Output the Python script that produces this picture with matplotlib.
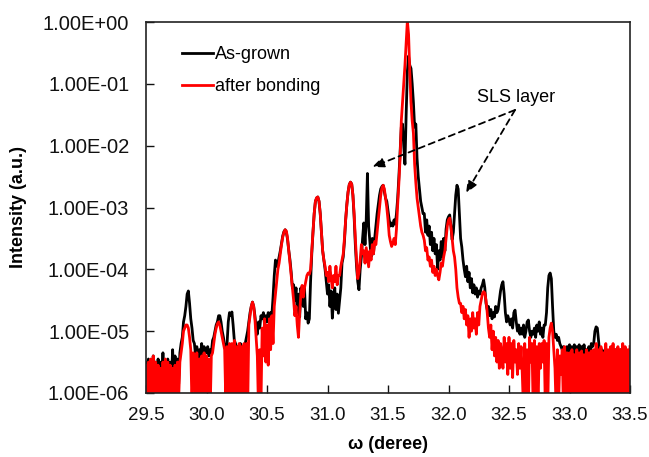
import numpy as np
import matplotlib
matplotlib.use("Agg")
import matplotlib.pyplot as plt
from matplotlib.ticker import FixedLocator, FuncFormatter, NullLocator

plt.rcParams['font.family'] = ['Liberation Sans', 'DejaVu Sans']

# scan grid: omega from 29.50 to 33.50 deg, 0.01 deg step
omega = np.round(np.arange(29.50, 33.505, 0.01), 2)

# log10 of normalised intensity, one row per 0.1 deg
as_grown_log = [
    -5.50, -5.85, -5.45, -5.90, -5.50, -5.80, -5.40, -5.85, -5.50, -5.90,  # 29.5
    -5.45, -5.90, -5.50, -5.80, -5.35, -5.85, -5.50, -5.90, -5.45, -5.85,  # 29.6
    -5.50, -5.80, -5.30, -5.85, -5.40, -5.80, -5.45, -5.85, -5.35, -5.20,  # 29.7
    -5.10, -4.85, -4.75, -4.60, -4.40, -4.35, -4.55, -4.80, -4.95, -5.15,  # 29.8
    -5.20, -5.40, -5.25, -5.45, -5.30, -5.40, -5.20, -5.45, -5.25, -5.35,  # 29.9
    -5.35, -5.25, -5.40, -5.30, -5.35, -5.15, -5.10, -5.00, -4.90, -4.85,  # 30.0
    -4.75, -4.75, -4.85, -5.00, -5.10, -5.25, -5.30, -5.20, -4.85, -4.70,  # 30.1
    -4.75, -4.69, -4.90, -5.15, -5.20, -5.30, -5.25, -5.35, -5.20, -5.30,  # 30.2
    -5.25, -5.35, -5.20, -5.10, -5.00, -4.85, -4.70, -4.60, -4.53, -4.60,  # 30.3
    -4.75, -4.95, -5.05, -4.85, -4.95, -4.75, -4.80, -4.70, -4.90, -4.75,  # 30.4
    -4.85, -4.70, -4.80, -4.70, -4.75, -4.45, -4.10, -3.85, -3.95, -3.90,  # 30.5
    -3.80, -3.70, -3.58, -3.46, -3.39, -3.36, -3.40, -3.52, -3.70, -3.85,  # 30.6
    -4.05, -4.30, -4.25, -4.50, -4.30, -4.70, -4.40, -4.77, -4.30, -4.50,  # 30.7
    -4.60, -4.30, -4.80, -4.70, -4.87, -4.80, -4.20, -3.75, -3.40, -3.10,  # 30.8
    -2.90, -2.85, -2.83, -2.90, -3.10, -3.40, -3.70, -3.85, -4.00, -4.20,  # 30.9
    -4.40, -4.25, -4.60, -4.35, -4.79, -4.50, -4.30, -4.65, -4.40, -4.71,  # 31.0
    -4.50, -4.30, -3.90, -3.80, -3.55, -3.20, -2.95, -2.75, -2.63, -2.59,  # 31.1
    -2.62, -2.80, -3.15, -3.60, -3.95, -4.20, -4.33, -4.00, -3.80, -3.50,  # 31.2
    -3.25, -3.60, -3.20, -2.45, -3.30, -3.55, -3.80, -3.50, -3.75, -3.50,  # 31.3
    -3.30, -3.10, -2.95, -2.80, -2.70, -2.66, -2.64, -2.75, -2.85, -2.90,  # 31.4
    -3.05, -3.20, -3.30, -3.25, -3.30, -3.20, -3.27, -3.10, -2.85, -2.50,  # 31.5
    -2.10, -1.70, -1.65, -2.00, -2.30, -1.50, -0.80, -0.55, -0.70, -0.75,  # 31.6
    -1.00, -1.30, -1.70, -1.65, -2.20, -2.50, -2.70, -2.90, -3.00, -3.10,  # 31.7
    -3.10, -3.40, -3.20, -3.45, -3.30, -3.60, -3.40, -3.70, -3.50, -3.75,  # 31.8
    -3.60, -4.00, -3.70, -3.85, -3.55, -3.80, -3.50, -3.70, -3.35, -3.20,  # 31.9
    -3.15, -3.12, -3.30, -3.52, -3.40, -3.10, -2.80, -2.64, -2.70, -3.10,  # 32.0
    -3.50, -3.64, -3.85, -4.00, -4.12, -3.95, -4.20, -4.05, -4.30, -4.15,  # 32.1
    -4.38, -4.25, -4.40, -4.30, -4.45, -4.35, -4.40, -4.30, -4.25, -4.17,  # 32.2
    -4.30, -4.55, -4.65, -4.60, -4.75, -4.65, -4.80, -4.70, -4.77, -4.60,  # 32.3
    -4.70, -4.65, -4.50, -4.35, -4.25, -4.20, -4.40, -4.70, -4.85, -4.75,  # 32.4
    -4.82, -4.90, -4.80, -4.95, -4.70, -4.66, -4.85, -5.00, -4.90, -5.05,  # 32.5
    -4.95, -5.05, -4.90, -5.10, -5.00, -4.85, -4.82, -5.00, -5.10, -5.00,  # 32.6
    -5.05, -4.95, -5.10, -4.90, -5.00, -4.85, -5.05, -4.95, -5.10, -4.90,  # 32.7
    -4.90, -4.70, -4.30, -4.10, -4.06, -4.15, -4.60, -5.00, -5.10, -5.05,  # 32.8
    -5.15, -5.10, -5.20, -5.25, -5.30, -5.25, -5.35, -5.30, -5.25, -5.35,  # 32.9
    -5.22, -5.55, -5.25, -5.60, -5.22, -5.50, -5.25, -5.60, -5.22, -5.55,  # 33.0
    -5.25, -5.60, -5.22, -5.55, -5.30, -5.60, -5.25, -5.50, -5.20, -5.25,  # 33.1
    -5.20, -5.00, -4.93, -4.95, -5.15, -5.35, -5.60, -5.30, -5.55, -5.35,  # 33.2
    -5.30, -5.55, -5.35, -5.60, -5.30, -5.55, -5.35, -5.60, -5.30, -5.55,  # 33.3
    -5.35, -5.60, -5.30, -5.55, -5.35, -5.60, -5.30, -5.55, -5.35, -5.60,  # 33.4
    -5.30,
]

after_bonding_log = [
    -5.55, -6.30, -5.50, -6.20, -5.45, -6.40, -5.40, -6.10, -5.50, -6.30,  # 29.5
    -5.55, -6.20, -5.60, -6.30, -5.50, -6.10, -5.45, -6.30, -5.50, -6.20,  # 29.6
    -5.55, -6.30, -5.60, -6.20, -5.55, -6.30, -5.50, -6.10, -5.50, -5.35,  # 29.7
    -5.20, -5.00, -4.95, -4.90, -4.90, -4.95, -5.10, -5.30, -6.20, -5.35,  # 29.8
    -5.40, -6.30, -5.35, -6.20, -5.45, -6.30, -5.40, -6.20, -5.35, -6.30,  # 29.9
    -5.40, -6.20, -5.45, -6.30, -5.40, -5.35, -5.20, -5.05, -4.95, -4.88,  # 30.0
    -4.85, -4.90, -5.00, -5.10, -5.20, -5.30, -6.20, -5.25, -6.30, -5.20,  # 30.1
    -6.10, -5.20, -6.30, -5.15, -6.20, -5.25, -6.30, -5.20, -6.10, -5.25,  # 30.2
    -6.30, -5.20, -6.20, -5.20, -6.30, -4.90, -4.75, -4.60, -4.53, -4.60,  # 30.3
    -4.80, -5.10, -5.40, -6.30, -5.30, -6.20, -4.95, -5.40, -4.80, -5.50,  # 30.4
    -4.90, -5.55, -4.80, -5.30, -4.75, -5.20, -4.60, -4.40, -4.20, -4.00,  # 30.5
    -3.90, -3.75, -3.60, -3.48, -3.40, -3.36, -3.38, -3.50, -3.70, -3.90,  # 30.6
    -4.10, -4.30, -4.50, -4.75, -4.60, -4.90, -5.10, -4.70, -4.40, -4.26,  # 30.7
    -4.45, -4.30, -4.20, -4.10, -4.06, -4.08, -4.00, -3.70, -3.40, -3.10,  # 30.8
    -2.90, -2.84, -2.83, -2.90, -3.10, -3.40, -3.70, -3.85, -3.95, -4.10,  # 30.9
    -4.05, -4.20, -3.95, -4.15, -4.30, -4.10, -4.20, -3.95, -4.25, -4.10,  # 31.0
    -4.10, -3.95, -3.85, -3.75, -3.50, -3.20, -2.95, -2.75, -2.63, -2.59,  # 31.1
    -2.62, -2.80, -3.10, -3.50, -3.85, -4.15, -4.05, -3.85, -3.60, -3.75,  # 31.2
    -3.70, -3.90, -3.65, -3.80, -3.96, -3.70, -3.85, -3.60, -3.75, -3.55,  # 31.3
    -3.60, -3.40, -3.20, -3.00, -2.80, -2.68, -2.64, -2.70, -2.85, -3.00,  # 31.4
    -3.20, -3.45, -3.55, -3.63, -3.58, -3.50, -3.60, -3.35, -2.95, -2.60,  # 31.5
    -2.20, -1.60, -1.30, -1.00, -0.70, -0.35, 0.02, -0.20, -0.80, -1.30,   # 31.6
    -1.60, -1.80, -2.30, -2.60, -2.85, -3.00, -3.15, -3.30, -3.40, -3.45,  # 31.7
    -3.53, -3.70, -3.65, -3.85, -3.80, -3.95, -3.85, -4.05, -3.95, -4.10,  # 31.8
    -4.00, -4.10, -4.17, -4.05, -3.90, -3.95, -3.80, -3.70, -3.50, -3.30,  # 31.9
    -3.20, -3.17, -3.30, -3.50, -3.70, -3.80, -4.00, -4.30, -4.45, -4.55,  # 32.0
    -4.55, -4.70, -4.60, -4.80, -4.65, -4.90, -4.75, -5.10, -4.80, -5.00,  # 32.1
    -4.70, -4.95, -4.80, -5.05, -4.70, -4.90, -4.60, -4.50, -4.40, -4.36,  # 32.2
    -4.38, -4.50, -4.70, -4.95, -5.10, -4.90, -5.30, -5.00, -5.40, -5.10,  # 32.3
    -5.50, -5.15, -5.60, -5.20, -5.35, -5.60, -5.10, -5.50, -5.20, -5.70,  # 32.4
    -5.10, -5.60, -5.20, -5.75, -5.15, -5.50, -5.30, -5.70, -5.20, -5.60,  # 32.5
    -5.25, -5.70, -6.30, -5.20, -6.20, -5.30, -6.30, -5.10, -5.50, -5.20,  # 32.6
    -6.30, -5.15, -6.20, -5.25, -6.30, -5.20, -5.60, -5.20, -5.50, -5.15,  # 32.7
    -6.20, -5.20, -6.30, -5.10, -4.95, -4.87, -5.00, -5.30, -5.60, -6.30,  # 32.8
    -5.30, -6.20, -5.40, -5.70, -5.30, -6.30, -5.25, -6.20, -5.35, -6.30,  # 32.9
    -5.35, -6.30, -5.30, -6.20, -5.38, -6.30, -5.30, -6.20, -5.35, -6.30,  # 33.0
    -5.32, -6.20, -5.38, -6.30, -5.30, -6.10, -5.35, -6.30, -5.32, -6.20,  # 33.1
    -5.30, -6.30, -5.20, -6.20, -5.30, -6.30, -5.25, -6.20, -5.35, -6.30,  # 33.2
    -5.20, -6.20, -5.30, -6.30, -5.25, -6.20, -5.20, -6.30, -5.30, -6.20,  # 33.3
    -5.25, -6.30, -5.30, -6.20, -5.20, -6.30, -5.25, -6.20, -5.30, -6.30,  # 33.4
    -5.25,
]

x_ticks = [29.5, 30.0, 30.5, 31.0, 31.5, 32.0, 32.5, 33.0, 33.5]
y_ticks = [1e-6, 1e-5, 1e-4, 1e-3, 1e-2, 1e-1, 1e0]

as_grown = 10.0 ** np.array(as_grown_log)
after_bonding = 10.0 ** np.array(after_bonding_log)

fig = plt.figure(figsize=(6.49, 4.57), dpi=100)
ax = fig.add_axes([146 / 649, 64 / 457, 484 / 649, 371 / 457])

ax.plot(omega, as_grown, color='black', lw=2.0, label='As-grown')
ax.plot(omega, after_bonding, color='#ff0000', lw=2.0, label='after bonding')

ax.set_yscale('log')
ax.set_xlim(29.5, 33.5)
ax.set_ylim(1e-6, 1e0)

ax.xaxis.set_major_locator(FixedLocator(x_ticks))
ax.xaxis.set_major_formatter(FuncFormatter(lambda v, p: f'{v:.1f}'))
ax.yaxis.set_major_locator(FixedLocator(y_ticks))
ax.yaxis.set_minor_locator(NullLocator())
ax.yaxis.set_major_formatter(FuncFormatter(lambda v, p: f'{v:.2E}'))

ax.tick_params(axis='both', direction='in', length=6, width=1, colors='#111111')
ax.tick_params(axis='x', pad=10, labelsize=13.5)
ax.tick_params(axis='y', pad=12, labelsize=14.5)
for s in ax.spines.values():
    s.set_linewidth(1.2)
    s.set_color('#222222')

ax.set_xlabel('ω (deree)', fontsize=13, fontweight='bold')
ax.set_ylabel('Intensity (a.u.)', fontsize=13, fontweight='bold')
ax.xaxis.set_label_coords(0.5, -0.115)
ax.yaxis.set_label_coords(-0.245, 0.5)

ax.legend(loc='upper left', bbox_to_anchor=(0.074, 0.934), frameon=False,
          fontsize=13, handlelength=1.7, handletextpad=0.15,
          labelspacing=0.8, borderpad=0, borderaxespad=0)

# label and dashed pointers to the superlattice satellite peaks
ax.text(32.56, 0.0612, 'SLS layer', fontsize=13, ha='center', va='center')
arrow_kw = dict(arrowstyle='-|>,head_length=0.7,head_width=0.3', color='black',
                lw=1.3, linestyle=(0, (3.5, 2.5)), shrinkA=0, shrinkB=0)
ax.annotate('', xy=(31.37, 0.00452), xytext=(32.55, 0.0378), arrowprops=arrow_kw)
ax.annotate('', xy=(32.145, 0.00171), xytext=(32.55, 0.0378), arrowprops=arrow_kw)

fig.savefig('out.png', dpi=100)
